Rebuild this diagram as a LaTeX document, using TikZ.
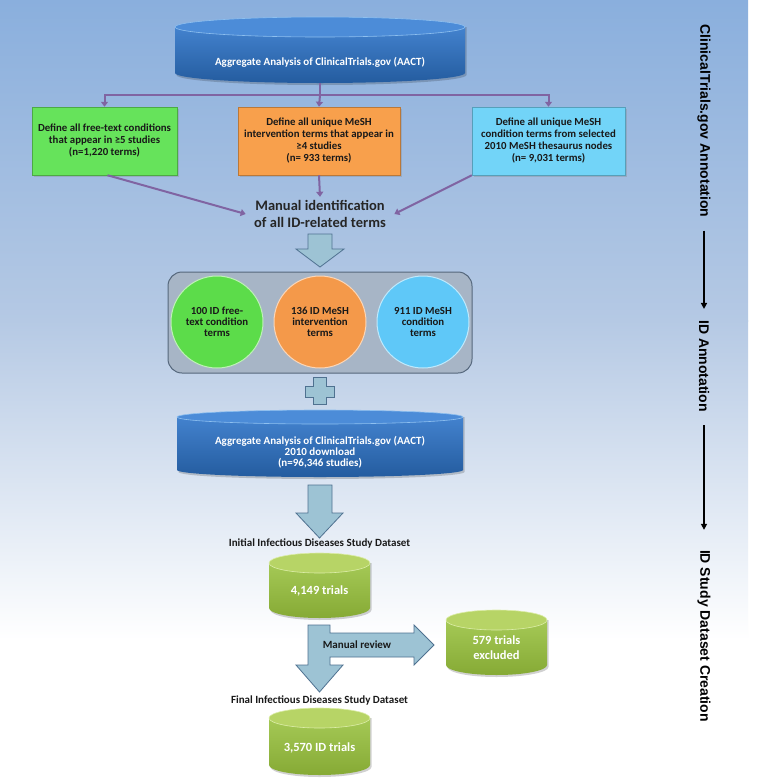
\documentclass[tikz,border=0pt]{standalone}
\usepackage{fontspec}
\setmainfont{Carlito}
\newfontfamily\arialfont{Liberation Sans}
\usetikzlibrary{arrows.meta,shadows}
\definecolor{bgA}{HTML}{8AAFDD}
\definecolor{bgB}{HTML}{B5C9E4}
\definecolor{purp}{HTML}{8064A2}
\definecolor{gboxc}{HTML}{66E35B}
\definecolor{oboxc}{HTML}{F8A04C}
\definecolor{cboxc}{HTML}{72D4F8}
\definecolor{gcirc}{HTML}{5CDC4A}
\definecolor{ocirc}{HTML}{F4994A}
\definecolor{ccirc}{HTML}{5FC8F8}
\definecolor{panelc}{HTML}{A7B5C6}
\definecolor{panelline}{HTML}{55677C}
\definecolor{arrfill}{HTML}{9DC3D4}
\definecolor{arrline}{HTML}{4F7190}
\definecolor{blueA}{HTML}{4382CE}
\definecolor{blueB}{HTML}{245C9F}
\definecolor{blueT}{HTML}{4C8CD8}
\definecolor{blueL}{HTML}{8EC0F0}
\definecolor{grA}{HTML}{A5C956}
\definecolor{grB}{HTML}{86AA35}
\definecolor{grT}{HTML}{B7D466}
\definecolor{grL}{HTML}{DCEDA8}
\newcommand\mycyl[9]{%
\pgfmathsetmacro\cc{(#1+#2)/2}%
\pgfmathsetmacro\rr{(#2-#1)/2}%
\fill[black,opacity=0.18] ({#1+1.5},#3) -- ({#1+1.5},{#4+2}) .. controls ({#1+1.5},{#4+2+0.5523*#5}) and ({\cc-0.5523*\rr},{#4+#5+2}) .. (\cc,{#4+#5+2}) .. controls ({\cc+0.5523*\rr},{#4+#5+2}) and ({#2+1.5},{#4+2+0.5523*#5}) .. ({#2+1.5},{#4+2}) -- ({#2+1.5},#3) -- cycle;
\shade[top color=#6,bottom color=#7] (#1,#3) -- (#1,#4) .. controls (#1,{#4+0.5523*#5}) and ({\cc-0.5523*\rr},{#4+#5}) .. (\cc,{#4+#5}) .. controls ({\cc+0.5523*\rr},{#4+#5}) and (#2,{#4+0.5523*#5}) .. (#2,#4) -- (#2,#3) -- cycle;
\draw[fill=#8, draw=#9, line width=0.6pt] (\cc,#3) ellipse [x radius=\rr pt, y radius=#5 pt];
}
\begin{document}
\begin{tikzpicture}[x=1pt,y=-1pt,
  purpline/.style={draw=purp, line width=2pt},
  parrow/.style={draw=purp, line width=2pt, -{Triangle[width=7pt,length=5pt]}},
  boxst/.style={draw=#1!75!black, fill=#1, line width=0.5pt, minimum height=68pt, align=center,
    font=\bfseries\fontsize{10.8}{12}\selectfont, text=black!90, inner sep=2pt,
    drop shadow={shadow xshift=1.5pt, shadow yshift=-1.5pt, opacity=0.3}},
  circst/.style={circle, fill=#1, draw=white!60!#1, line width=1pt, minimum size=92pt, inner sep=0pt,
    align=center, font=\bfseries\fontsize{10.8}{11}\selectfont, text=black!90},
  cyltext/.style={align=center, text=white, font=\bfseries\fontsize{11}{10.8}\selectfont},
  gcyltext/.style={align=center, text=white, font=\bfseries\fontsize{12.5}{15}\selectfont},
  dstitle/.style={text=black!90, font=\bfseries\fontsize{11}{12}\selectfont},
  blockarr/.style={fill=arrfill, draw=arrline, line width=0.8pt, line join=miter},
  lab/.style={font=\arialfont\bfseries\fontsize{14}{16}\selectfont, inner sep=0pt, rotate=-90},
  labarr/.style={line width=1.6pt, -{Triangle[width=6pt,length=6pt]}}
]
\useasboundingbox (0,0) rectangle (756,782);
% background
\fill[white] (0,0) rectangle (756,782);
\shade[top color=bgA, bottom color=bgB] (0,0) rectangle (748,321);
\shade[top color=bgB, bottom color=white] (0,320) rectangle (748,640);

% top cylinder
\mycyl{175}{465}{27}{73}{10}{blueA}{blueB}{blueT}{blueL}
\node[cyltext] (aact) at (320,62) {Aggregate Analysis of ClinicalTrials.gov (AACT)};
\coordinate (aactb) at (320,83);
\coordinate (j) at (320,95);

% boxes
\node[boxst=gboxc, minimum width=145pt] (g) at (104.5,141) {Define all free-text conditions\\that appear in ≥5 studies\\(n=1,220 terms)};
\node[boxst=oboxc, minimum width=162pt] (o) at (319,141) {Define all unique MeSH\\intervention terms that appear in\\≥4 studies\\(n= 933 terms)};
\node[boxst=cboxc, minimum width=153pt] (c) at (548.5,141) {Define all unique MeSH\\condition terms from selected\\2010 MeSH thesaurus nodes\\(n= 9,031 terms)};

\draw[purpline] (aactb) -- (j);
\draw[parrow] (j) -| (g.north);
\draw[parrow] (j) -| (c.north);
\draw[parrow] (j) -- (o.north);

\node[align=center, text=black!85, font=\bfseries\fontsize{14.5}{17}\selectfont] (mi) at (320,214) {Manual identification\\of all ID-related terms};
\draw[parrow] ([xshift=3pt]g.south) -- ([xshift=-5pt]mi.west);
\draw[parrow] (o.south) -- (mi.north);
\draw[parrow] (c.south west) -- ([xshift=5pt]mi.east);

% block arrow 1
\draw[blockarr] (308,234) -- (332,234) -- (332,249) -- (344,249) -- (320,267) -- (296,249) -- (308,249) -- cycle;

% panel with circles
\node[draw=panelline, fill=panelc, line width=1pt, rounded corners=14pt, minimum width=304pt, minimum height=101pt] (panel) at (320,322.5) {};
\node[circst=gcirc] (c1) at (217,322) {100 ID free-\\text condition\\terms};
\node[circst=ocirc] (c2) at (320,322) {136 ID MeSH\\intervention\\terms};
\node[circst=ccirc] (c3) at (423,322) {911 ID MeSH\\condition\\terms};

% plus shape
\draw[blockarr] (313,377) -- (326,377) -- (326,386) -- (334,386) -- (334,397) -- (326,397) -- (326,404) -- (313,404) -- (313,397) -- (305,397) -- (305,386) -- (313,386) -- cycle;

% second cylinder
\mycyl{177}{463}{417}{470}{7}{blueA}{blueB}{blueT}{blueL}
\node[cyltext] (aact2) at (320,452) {Aggregate Analysis of ClinicalTrials.gov (AACT)\\2010 download\\(n=96,346 studies)};

% block arrow 2
\draw[blockarr] (308,485) -- (332,485) -- (332,513) -- (343,513) -- (319.5,538) -- (296,513) -- (308,513) -- cycle;

\node[dstitle] (t1) at (319.5,543) {Initial Infectious Diseases Study Dataset};
\mycyl{269}{370}{563}{608}{10}{grA}{grB}{grT}{grL}
\node[gcyltext] (d1) at (319.5,591) {4,149 trials};

\mycyl{446}{547}{620}{665}{10}{grA}{grB}{grT}{grL}
\node[gcyltext] (ex) at (496.5,648) {579 trials\\excluded};

% L-shaped arrow
\draw[blockarr] (308,625) -- (330,625) -- (330,633) -- (414,633) -- (414,625) -- (434,645) -- (414,665) -- (414,657) -- (330,657) -- (330,665) -- (343,665) -- (319.5,692) -- (296,665) -- (308,665) -- cycle;
\node[text=black!90, font=\bfseries\fontsize{11}{12}\selectfont] (mr) at (357,645) {Manual review};

\node[dstitle] (t2) at (319.5,700) {Final Infectious Diseases Study Dataset};
\mycyl{269}{370}{718}{765}{10}{grA}{grB}{grT}{grL}
\node[gcyltext] (d2) at (319.5,748) {3,570 ID trials};

% right-side labels
\node[lab] (l1) at (704,121) {ClinicalTrials.gov Annotation};
\node[lab] (l2) at (704,366) {ID Annotation};
\node[lab] (l3) at (704,636) {ID Study Dataset Creation};
\draw[labarr, shorten <=13pt, shorten >=11pt] (l1.east) -- (l2.west);
\draw[labarr, shorten <=13pt, shorten >=20pt] (l2.east) -- (l3.west);
\end{tikzpicture}
\end{document}
